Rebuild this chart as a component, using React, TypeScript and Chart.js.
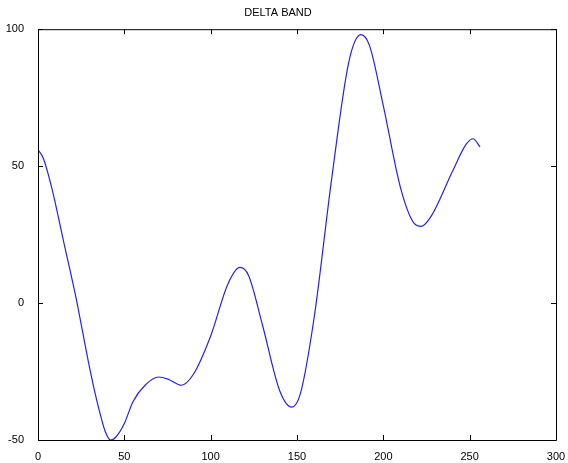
import React, { useEffect, useRef } from "react";
import { Chart, registerables } from "chart.js";
Chart.register(...registerables);

const xs = [0,3,8,15,22,30,35,39,42,45,50,55,62,70,76,83,90,100,110,117,122,130,140,147,152,160,170,180,187,192,200,210,218,222,228,240,248,252,256];
const ys = [56,53,42,22,2,-24,-38,-47,-50,-49,-44,-36,-30,-27,-28,-30,-26,-12,7,13,10,-8,-32,-38,-33,-5,45,88,98,94,72,42,29,28,32,48,58,60,57];
const xTicks = [0,50,100,150,200,250,300];
const yTicks = [-50,0,50,100];

const ticksPlugin = {
  id: "inTicks",
  afterDraw(chart: any) {
    const { ctx, chartArea: a, scales } = chart;
    ctx.save();
    ctx.strokeStyle = "#000";
    ctx.lineWidth = 1;
    ctx.beginPath();
    ctx.rect(a.left + 0.5, a.top + 0.5, a.right - a.left, a.bottom - a.top);
    for (const t of xTicks) {
      const p = Math.round(scales.x.getPixelForValue(t)) + 0.5;
      ctx.moveTo(p, a.bottom); ctx.lineTo(p, a.bottom - 5);
      ctx.moveTo(p, a.top); ctx.lineTo(p, a.top + 5);
    }
    for (const t of yTicks) {
      const p = Math.round(scales.y.getPixelForValue(t)) + 0.5;
      ctx.moveTo(a.left, p); ctx.lineTo(a.left + 5, p);
      ctx.moveTo(a.right, p); ctx.lineTo(a.right - 5, p);
    }
    ctx.stroke();
    ctx.restore();
  },
};

export default function App() {
  const ref = useRef<HTMLCanvasElement>(null);
  useEffect(() => {
    document.body.style.margin = "0";
    const chart = new Chart(ref.current!, {
      type: "line",
      data: {
        datasets: [{
          data: xs.map((x, i) => ({ x, y: ys[i] })),
          borderColor: "#2020ff",
          borderWidth: 1.2,
          pointRadius: 0,
          cubicInterpolationMode: "monotone",
        }],
      },
      options: {
        animation: false,
        responsive: false,
        layout: { padding: { right: 12, top: 0 } },
        plugins: {
          legend: { display: false },
          tooltip: { enabled: false },
          title: { display: true, text: "DELTA BAND", color: "#000", font: { family: "Arial, Liberation Sans", size: 11, weight: "normal" }, padding: { top: 6, bottom: 10 } },
        },
        scales: {
          x: {
            type: "linear", min: 0, max: 300,
            afterBuildTicks: (s: any) => { s.ticks = xTicks.map((v) => ({ value: v })); },
            afterFit: (s: any) => { s.height = 23; },
            grid: { display: false },
            border: { display: false },
            ticks: { color: "#000", font: { family: "Arial, Liberation Sans", size: 11 }, padding: 2, maxRotation: 0 },
          },
          y: {
            min: -50, max: 100,
            afterBuildTicks: (s: any) => { s.ticks = yTicks.map((v) => ({ value: v })); },
            afterFit: (s: any) => { s.width = 38; },
            grid: { display: false },
            border: { display: false },
            ticks: { color: "#000", font: { family: "Arial, Liberation Sans", size: 11 }, padding: 6 },
          },
        },
      },
      plugins: [ticksPlugin],
    } as any);
    return () => chart.destroy();
  }, []);
  return <canvas ref={ref} width={568} height={463} />;
}
